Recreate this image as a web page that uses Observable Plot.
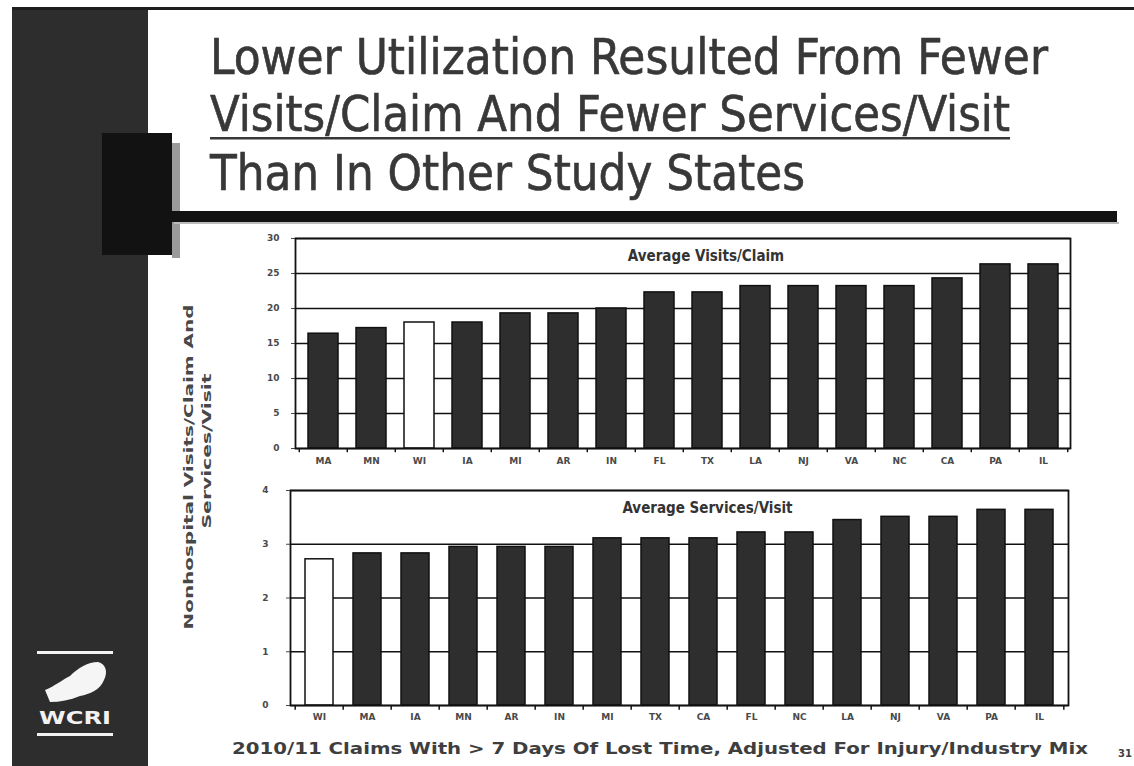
<!DOCTYPE html>
<html>
<head>
<meta charset="utf-8">
<script src="https://cdn.jsdelivr.net/npm/d3@7"></script>
<script src="https://cdn.jsdelivr.net/npm/@observablehq/plot@0.6"></script>
<style>
  html, body { margin: 0; padding: 0; background: #fff; }
  #page { position: relative; width: 1134px; height: 766px; overflow: hidden; background: #fff; }
  #deco { position: absolute; left: 0; top: 0; }
  .chart { position: absolute; }
</style>
</head>
<body>
<div id="page">
  <svg id="deco" width="1134" height="766" xmlns="http://www.w3.org/2000/svg">
    <!-- slide decoration -->
    <rect x="12" y="10" width="136" height="756" fill="#2d2d2d"/>
    <rect x="12" y="7" width="1122" height="3" fill="#1e1e1e"/>
    <rect x="172" y="143" width="8" height="115" fill="#9a9a9a"/>
    <rect x="102" y="133" width="70" height="122" fill="#121212"/>
    <rect x="172" y="211" width="945" height="11" fill="#121212"/>
    <rect x="174" y="222" width="945" height="2" fill="#bbbbbb"/>
    <!-- logo -->
    <rect x="37" y="651" width="76" height="3" fill="#f2f2f2"/>
    <path d="M45,690 C55,686 62,680 70,676 C78,668 88,662 98,662 C106,664 108,672 104,680 C100,690 90,694 80,696 C70,700 60,702 50,702 Z" fill="#f5f5f5"/>
    <text x="75" y="724" text-anchor="middle" fill="#f2f2f2" font-family="DejaVu Sans" font-weight="bold" font-size="17" textLength="72" lengthAdjust="spacingAndGlyphs">WCRI</text>
    <rect x="37" y="733" width="76" height="3" fill="#f2f2f2"/>
    <!-- title -->
    <g font-family="DejaVu Sans Condensed, DejaVu Sans, sans-serif" font-size="50" fill="#383838" stroke="#383838" stroke-width="0.6">
      <text x="210" y="74" textLength="838" lengthAdjust="spacingAndGlyphs">Lower Utilization Resulted From Fewer</text>
      <text x="210" y="131" textLength="800" lengthAdjust="spacingAndGlyphs">Visits/Claim And Fewer Services/Visit</text>
      <text x="210" y="190" textLength="595" lengthAdjust="spacingAndGlyphs">Than In Other Study States</text>
    </g>
    <rect x="210" y="137" width="800" height="2.5" fill="#383838"/>
    <!-- y label -->
    <g font-family="DejaVu Sans" font-weight="bold" font-size="13" fill="#484848" text-anchor="middle">
      <text transform="translate(193,467) rotate(-90)" textLength="325" lengthAdjust="spacingAndGlyphs">Nonhospital Visits/Claim And</text>
      <text transform="translate(211,451) rotate(-90)" textLength="155" lengthAdjust="spacingAndGlyphs">Services/Visit</text>
    </g>
    <!-- caption -->
    <text x="232" y="754" font-family="DejaVu Sans" font-weight="bold" font-size="15" fill="#3e3e3e" textLength="856" lengthAdjust="spacingAndGlyphs">2010/11 Claims With &gt; 7 Days Of Lost Time, Adjusted For Injury/Industry Mix</text>
    <text x="1132" y="757" text-anchor="end" font-family="DejaVu Sans" font-weight="bold" font-size="10" fill="#3e3e3e">31</text>
  </svg>
  <div id="top" class="chart" style="left:240px; top:225px;"></div>
  <div id="bottom" class="chart" style="left:240px; top:478px;"></div>
</div>
<script>
// ---------- data ----------
const highlightState = "WI";

const visitsTitle = "Average Visits/Claim";
const visitsStates = ["MA","MN","WI","IA","MI","AR","IN","FL","TX","LA","NJ","VA","NC","CA","PA","IL"];
const visitsValues = [16.4,17.2,18.0,18.0,19.3,19.3,20.0,22.3,22.3,23.2,23.2,23.2,23.2,24.3,26.3,26.3];
const visitsTicks = [0,5,10,15,20,25,30];

const servicesTitle = "Average Services/Visit";
const servicesStates = ["WI","MA","IA","MN","AR","IN","MI","TX","CA","FL","NC","LA","NJ","VA","PA","IL"];
const servicesValues = [2.72,2.83,2.83,2.95,2.95,2.95,3.11,3.11,3.11,3.22,3.22,3.45,3.51,3.51,3.64,3.64];
const servicesTicks = [0,1,2,3,4];

// ---------- chart builder ----------
function barChart({states, values, ticks, title, width, height, margins, padInner, tickPadY, tickPadX, titleDx, tickLen}) {
  const data = states.map((s, i) => ({state: s, value: values[i]}));
  const plotW = width - margins.left - margins.right;
  const step = plotW / states.length;
  const yMax = ticks[ticks.length - 1];
  const last = states[states.length - 1];
  return Plot.plot({
    width, height,
    marginLeft: margins.left, marginRight: margins.right,
    marginTop: margins.top, marginBottom: margins.bottom,
    style: {background: "transparent", fontFamily: "DejaVu Sans, sans-serif", fontSize: "9px", fontWeight: "bold", color: "#4a4a4a", overflow: "visible"},
    x: {domain: states, paddingInner: padInner, paddingOuter: padInner / 2, label: null, tickSize: 0, tickPadding: tickPadX},
    y: {domain: [0, yMax], ticks, tickFormat: d3.format("d"), label: null, tickSize: 4, tickPadding: tickPadY},
    color: {type: "identity"},
    marks: [
      Plot.ruleY(ticks, {stroke: "#111", strokeWidth: 1.6}),
      Plot.barY(data, {x: "state", y: "value", fill: d => d.state === highlightState ? "#ffffff" : "#2e2e2e", stroke: "#111", strokeWidth: 1.5}),
      Plot.frame({stroke: "#111", strokeWidth: 1.8}),
      Plot.ruleX(states, {x: d => d, y1: 0, y2: -tickLen, dx: -step / 2, stroke: "#111", strokeWidth: 1.5}),
      Plot.ruleX([last], {x: d => d, y1: 0, y2: -tickLen, dx: step / 2, stroke: "#111", strokeWidth: 1.5}),
      Plot.text([title], {text: d => d, frameAnchor: "top", dy: 12, dx: titleDx, fontSize: 15, fontWeight: "bold", fill: "#333", fontFamily: "DejaVu Sans Condensed, DejaVu Sans, sans-serif"})
    ]
  });
}

document.getElementById("top").append(barChart({
  states: visitsStates, values: visitsValues, ticks: visitsTicks, title: visitsTitle,
  width: 840, height: 250, margins: {left: 55, right: 10, top: 13, bottom: 27},
  padInner: 0.38, tickPadY: 12, tickPadX: 9, titleDx: 23, tickLen: 0.6
}));

document.getElementById("bottom").append(barChart({
  states: servicesStates, values: servicesValues, ticks: servicesTicks, title: servicesTitle,
  width: 840, height: 255, margins: {left: 50, right: 12, top: 12, bottom: 28},
  padInner: 0.42, tickPadY: 18, tickPadX: 8, titleDx: 28, tickLen: 0.09
}));
</script>
</body>
</html>
